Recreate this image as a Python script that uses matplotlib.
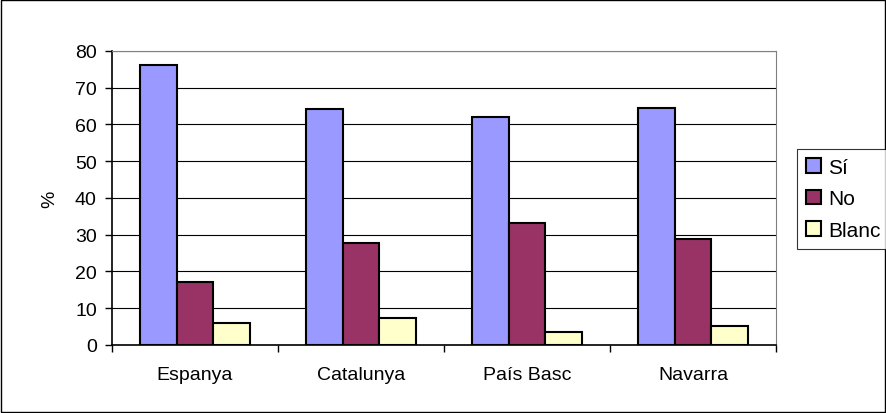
import numpy as np
import matplotlib.pyplot as plt
from matplotlib.patches import Rectangle

plt.rcParams['font.family'] = ['Liberation Sans', 'DejaVu Sans']

regions = ['Espanya', 'Catalunya', 'País Basc', 'Navarra']
si = [76.2, 64.1, 62.0, 64.6]
no = [17.1, 27.8, 33.3, 28.9]
blanc = [6.0, 7.3, 3.6, 5.2]
series = [('Sí', si, '#9999FF'), ('No', no, '#993366'), ('Blanc', blanc, '#FFFFCC')]

fig = plt.figure(figsize=(8.87, 4.14), dpi=100)
ax = fig.add_axes([0.1263, 0.1643, 0.7485, 0.7101])

x = np.arange(len(regions))
w = 0.222
for i, (name, vals, col) in enumerate(series):
    ax.bar(x + (i - 1) * w, vals, w, color=col, edgecolor='black', linewidth=1.5,
           label=name, zorder=3)

ax.set_xlim(-0.5, len(regions) - 0.5)
ax.set_ylim(0, 80)
ax.set_yticks(range(0, 81, 10))
ax.yaxis.grid(True, color='black', linewidth=0.8, zorder=0)
ax.set_xticks(x)
ax.set_xticklabels(regions, fontsize=14)
ax.tick_params(axis='x', length=0, pad=15)
ax.set_xticks(np.arange(-0.5, len(regions), 1), minor=True)
ax.tick_params(axis='x', which='minor', length=5, direction='out', width=1)
ax.tick_params(axis='y', labelsize=14, length=5, direction='out', width=1, pad=6)
for s in ['top', 'right']:
    ax.spines[s].set_color('#808080')
for s in ['left', 'bottom']:
    ax.spines[s].set_linewidth(1.2)
ax.set_ylabel('%', fontsize=14, labelpad=12)

leg = fig.legend(loc='center left', bbox_to_anchor=(0.8985, 0.517), fontsize=15,
                 frameon=True, fancybox=False, edgecolor='black',
                 handlelength=0.7, handleheight=0.7, handletextpad=0.35,
                 labelspacing=0.6, borderpad=0.45, borderaxespad=0)
leg.get_frame().set_linewidth(0.8)

fig.patches.append(Rectangle((0.001, 0.002), 0.997, 0.996, transform=fig.transFigure,
                             fill=False, edgecolor='black', linewidth=1))

plt.savefig('out.png', dpi=100)
